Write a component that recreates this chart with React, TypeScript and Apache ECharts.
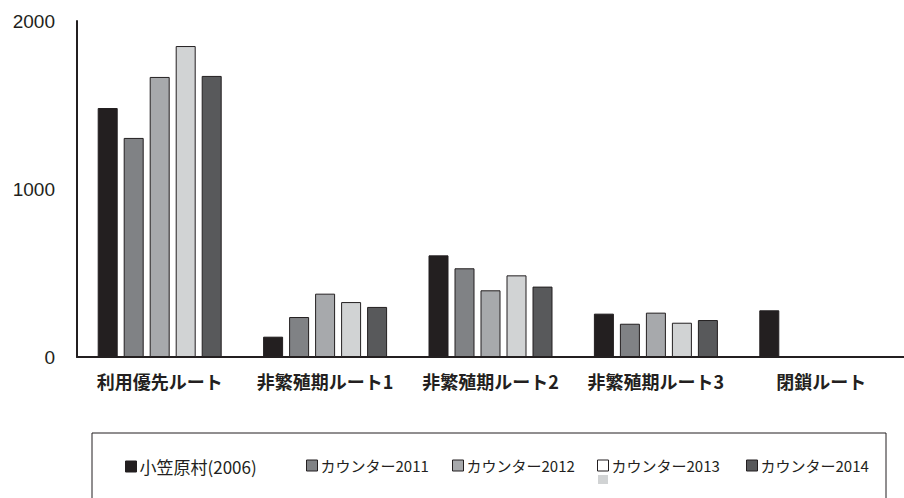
import React, { useEffect, useRef } from "react";
import * as echarts from "echarts";

const categories = ["利用優先ルート", "非繁殖期ルート1", "非繁殖期ルート2", "非繁殖期ルート3", "閉鎖ルート"];
const seriesNames = ["小笠原村(2006)", "カウンター2011", "カウンター2012", "カウンター2013", "カウンター2014"];
const v2006 = [1482, 121, 605, 258, 278];
const v2011 = [1304, 238, 528, 198, null];
const v2012 = [1667, 377, 397, 264, null];
const v2013 = [1851, 327, 486, 204, null];
const v2014 = [1673, 298, 419, 220, null];
const yTicks = [0, 1000, 2000];

const colors = ["#231f20", "#808285", "#a7a9ac", "#d1d3d4", "#58595b"];
const legendLeft = [125, 306, 452, 597, 746];
const legendFont = [17, 15, 15, 15, 15];

export default function App() {
  const ref = useRef<HTMLDivElement>(null);
  useEffect(() => {
    if (!ref.current) return;
    const chart = echarts.init(ref.current, null, { renderer: "svg" });
    const values = [v2006, v2011, v2012, v2013, v2014];
    const series = seriesNames.map((name, i) => ({
      name,
      type: "bar",
      data: values[i],
      barWidth: 20,
      barGap: "30%",
      itemStyle: { color: colors[i], borderColor: "#231f20", borderWidth: 1 },
    }));
    const legends = seriesNames.map((name, i) => ({
      show: true,
      data: [
        i === 3
          ? { name, itemStyle: { color: "#ffffff", borderColor: "#231f20", borderWidth: 1 } }
          : { name, itemStyle: { borderColor: "#231f20", borderWidth: 1 } },
      ],
      left: legendLeft[i],
      top: 458,
      padding: 0,
      itemWidth: 11,
      itemHeight: 11,
      itemGap: 0,
      icon: "rect",
      selectedMode: false,
      textStyle: {
        fontFamily: "Noto Sans CJK JP",
        fontSize: legendFont[i],
        color: "#231f20",
        padding: [0, 0, 0, -2],
      },
    }));
    chart.setOption({
      animation: false,
      backgroundColor: "#ffffff",
      grid: { left: 77, right: -10, top: 21, bottom: 141, containLabel: false },
      legend: legends,
      xAxis: {
        type: "category",
        data: categories,
        axisLine: { lineStyle: { color: "#231f20", width: 2 } },
        axisTick: { show: false },
        axisLabel: {
          interval: 0,
          margin: 15,
          fontFamily: "Noto Sans CJK JP",
          fontWeight: "bold",
          fontSize: 18,
          color: "#231f20",
        },
      },
      yAxis: {
        type: "value",
        min: yTicks[0],
        max: yTicks[yTicks.length - 1],
        interval: 1000,
        splitLine: { show: false },
        axisLine: { show: true, lineStyle: { color: "#231f20", width: 2 } },
        axisTick: { show: false },
        axisLabel: {
          margin: 22,
          fontFamily: "Liberation Sans, Arial, sans-serif",
          fontSize: 19,
          color: "#231f20",
          formatter: (v: number) => String(v),
        },
      },
      graphic: [
        {
          type: "rect",
          shape: { x: 92, y: 433, width: 794, height: 80 },
          style: { fill: "none", stroke: "#231f20", lineWidth: 1 },
          silent: true,
        },
        {
          type: "rect",
          shape: { x: 598, y: 475, width: 10, height: 9 },
          style: { fill: "#d1d3d4" },
          silent: true,
        },
      ],
      series,
    });
    return () => chart.dispose();
  }, []);
  return (
    <div
      ref={ref}
      style={{ position: "absolute", left: 0, top: 0, width: 904, height: 498, overflow: "hidden" }}
    />
  );
}
